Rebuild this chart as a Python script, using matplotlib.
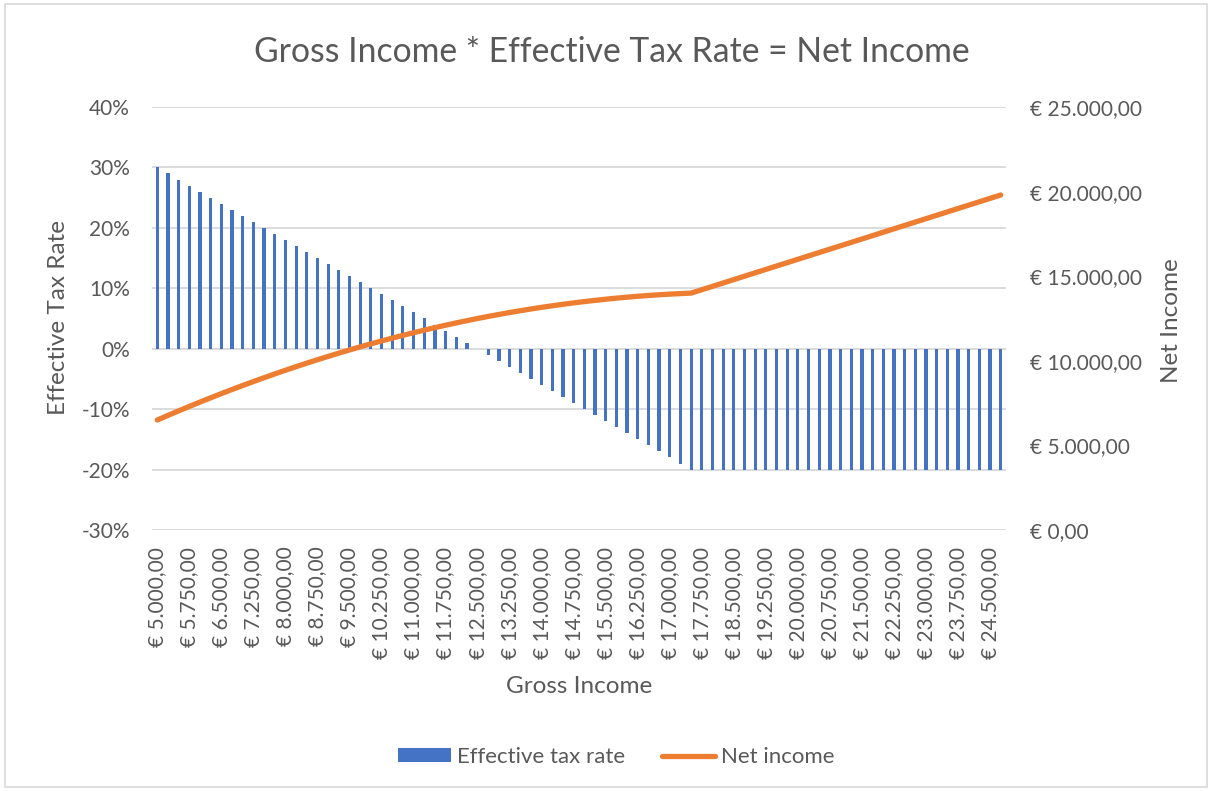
import matplotlib
matplotlib.use("Agg")
import matplotlib.pyplot as plt
from matplotlib.patches import Rectangle
from matplotlib.ticker import FuncFormatter, MultipleLocator

plt.rcParams['font.family'] = ['Lato', 'DejaVu Sans']

# Gross income categories (EUR)
gross_income = [
    5000, 5250, 5500, 5750, 6000, 6250, 6500, 6750, 7000, 7250,
    7500, 7750, 8000, 8250, 8500, 8750, 9000, 9250, 9500, 9750,
    10000, 10250, 10500, 10750, 11000, 11250, 11500, 11750, 12000, 12250,
    12500, 12750, 13000, 13250, 13500, 13750, 14000, 14250, 14500, 14750,
    15000, 15250, 15500, 15750, 16000, 16250, 16500, 16750, 17000, 17250,
    17500, 17750, 18000, 18250, 18500, 18750, 19000, 19250, 19500, 19750,
    20000, 20250, 20500, 20750, 21000, 21250, 21500, 21750, 22000, 22250,
    22500, 22750, 23000, 23250, 23500, 23750, 24000, 24250, 24500, 24750,
]

# Effective tax rate in percent
tax_rate = [
    30, 29, 28, 27, 26, 25, 24, 23, 22, 21,
    20, 19, 18, 17, 16, 15, 14, 13, 12, 11,
    10, 9, 8, 7, 6, 5, 4, 3, 2, 1,
    0, -1, -2, -3, -4, -5, -6, -7, -8, -9,
    -10, -11, -12, -13, -14, -15, -16, -17, -18, -19,
    -20, -20, -20, -20, -20, -20, -20, -20, -20, -20,
    -20, -20, -20, -20, -20, -20, -20, -20, -20, -20,
    -20, -20, -20, -20, -20, -20, -20, -20, -20, -20,
]

# Net income (EUR)
net_income = [
    6500, 6772.5, 7040, 7302.5, 7560, 7812.5, 8060, 8302.5, 8540, 8772.5,
    9000, 9222.5, 9440, 9652.5, 9860, 10062.5, 10260, 10452.5, 10640, 10822.5,
    11000, 11172.5, 11340, 11502.5, 11660, 11812.5, 11960, 12102.5, 12240, 12372.5,
    12500, 12622.5, 12740, 12852.5, 12960, 13062.5, 13160, 13252.5, 13340, 13422.5,
    13500, 13572.5, 13640, 13702.5, 13760, 13812.5, 13860, 13902.5, 13940, 13972.5,
    14000, 14200, 14400, 14600, 14800, 15000, 15200, 15400, 15600, 15800,
    16000, 16200, 16400, 16600, 16800, 17000, 17200, 17400, 17600, 17800,
    18000, 18200, 18400, 18600, 18800, 19000, 19200, 19400, 19600, 19800,
]

BLUE = '#4472C4'
ORANGE = '#ED7D31'
GRID = '#D9D9D9'
TEXT = '#595959'


def euro(v):
    # Dutch style currency: € 25.000,00
    s = f"{v:,.2f}".replace(",", "X").replace(".", ",").replace("X", ".")
    return f"€ {s}"


fig = plt.figure(figsize=(12.13, 7.91), dpi=100)
fig.patches.append(Rectangle((0.004, 0.005), 0.991, 0.99, transform=fig.transFigure,
                             fill=False, edgecolor=GRID, linewidth=1.2))

ax = fig.add_axes([0.1253, 0.3300, 0.7041, 0.5347])
ax2 = ax.twinx()

x = list(range(len(gross_income)))
ax.bar(x, [r / 100 for r in tax_rate], width=0.3, color=BLUE, zorder=3,
       label='Effective tax rate')
ax2.plot(x, net_income, color=ORANGE, linewidth=3.8, solid_capstyle='round',
         label='Net income', zorder=4)

ax.set_xlim(-0.5, len(x) - 0.5)
ax.set_ylim(-0.3, 0.4)
ax.yaxis.set_major_locator(MultipleLocator(0.1))
ax.yaxis.set_major_formatter(FuncFormatter(lambda v, p: f"{v * 100:.0f}%"))
ax2.set_ylim(0, 25000)
ax2.yaxis.set_major_locator(MultipleLocator(5000))
ax2.yaxis.set_major_formatter(FuncFormatter(lambda v, p: euro(v)))

ax.grid(axis='y', color=GRID, linewidth=1.3, zorder=0)
ax.set_axisbelow(True)
ax2.set_zorder(ax.get_zorder() + 1)
ax2.patch.set_visible(False)

ax.set_xticks(x[::3])
ax.set_xticklabels([euro(g) for g in gross_income[::3]], rotation=90)

for a in (ax, ax2):
    for s in a.spines.values():
        s.set_visible(False)
ax.tick_params(axis='x', length=0, pad=12, labelsize=15, labelcolor=TEXT)
ax.tick_params(axis='y', length=0, pad=16, labelsize=15, labelcolor=TEXT)
ax2.tick_params(axis='y', length=0, pad=17, labelsize=15, labelcolor=TEXT)

fig.text(0.504, 0.934, 'Gross Income * Effective Tax Rate = Net Income',
         ha='center', va='center', fontsize=24.3, color=TEXT)
fig.text(0.4775, 0.1315, 'Gross Income', ha='center', va='center',
         fontsize=17.5, color=TEXT)
fig.text(0.048, 0.598, 'Effective Tax Rate', ha='center', va='center',
         rotation=90, fontsize=17.5, color=TEXT)
fig.text(0.966, 0.595, 'Net Income', ha='center', va='center',
         rotation=90, fontsize=17.5, color=TEXT)

h1, l1 = ax.get_legend_handles_labels()
h2, l2 = ax2.get_legend_handles_labels()
leg = fig.legend(h1 + h2, l1 + l2, loc='center', bbox_to_anchor=(0.508, 0.043),
                 ncol=2, frameon=False, fontsize=16, handlelength=2.35,
                 handleheight=0.6, handletextpad=0.27, columnspacing=1.7)
for t in leg.get_texts():
    t.set_color(TEXT)

fig.savefig('out.png', dpi=100)
